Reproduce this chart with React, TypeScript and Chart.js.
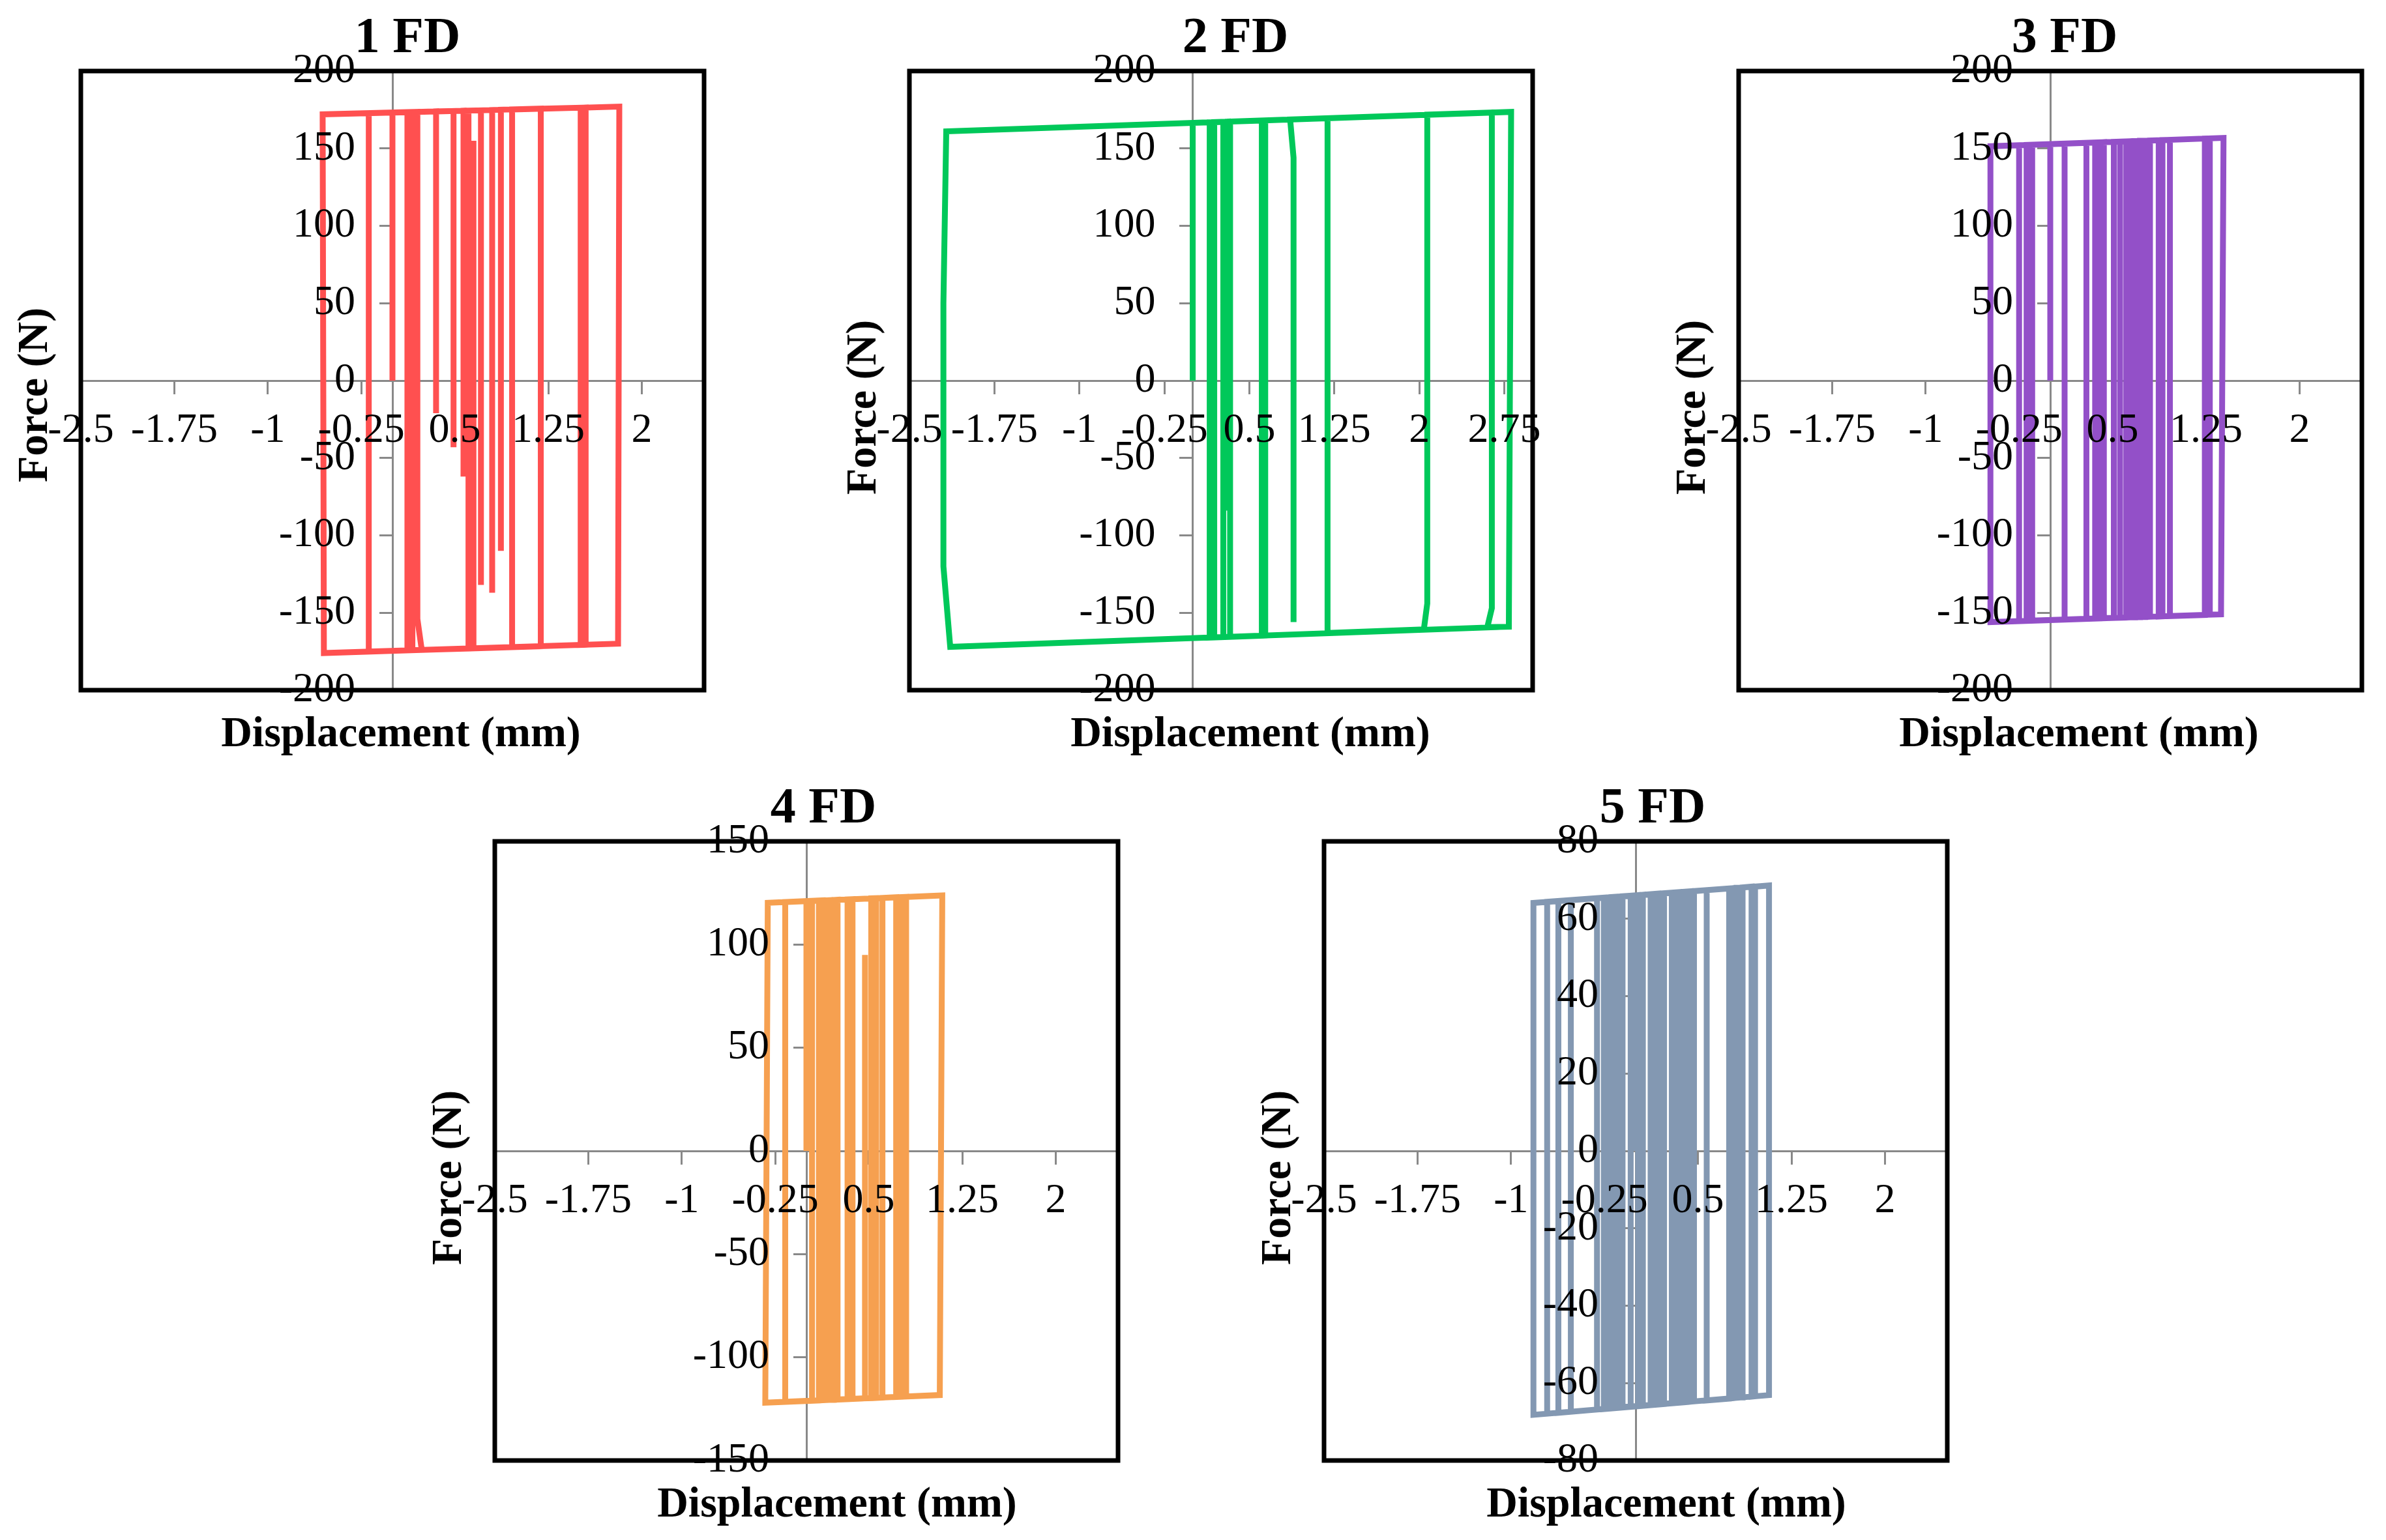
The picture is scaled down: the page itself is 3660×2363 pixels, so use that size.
import React, { useEffect, useRef } from 'react';
import { Chart, registerables } from 'chart.js';

Chart.register(...registerables);

// ---------- data ----------
const titles = ['1 FD', '2 FD', '3 FD', '4 FD', '5 FD'];
const xAxisTitle = 'Displacement (mm)';
const yAxisTitle = 'Force (N)';

const xTicksA = [-2.5, -1.75, -1, -0.25, 0.5, 1.25, 2];
const xTicksB = [-2.5, -1.75, -1, -0.25, 0.5, 1.25, 2, 2.75];
const yTicks200 = [-200, -150, -100, -50, 0, 50, 100, 150, 200];
const yTicks150 = [-150, -100, -50, 0, 50, 100, 150];
const yTicks80 = [-80, -60, -40, -20, 0, 20, 40, 60, 80];

const disp1 = [0, 0, 0.12, 0.12, -0.19, -0.19, 0.16, 0.16, -0.55, -0.56, 0.2, 0.2, 0.235, 0.61, 0.61, 0.2, 0.35, 0.35, 0.35, 0.49, 0.49, 0.49, 0.57, 0.57, 0.57, 0.71, 0.71, 0.71, 0.8, 0.8, 0.8, 0.87, 0.87, 0.87, 1.19, 1.19, 0.65, 0.65, 0.65, 0.96, 0.96, 1.55, 1.55, 1.51, 1.51, 1.82, 1.81, -0.55];
const force1 = [0, 173.2, 173.4, -174.3, -175.1, 172.8, 173.5, -174.2, -176, 172, 173.6, -154, -174, -173.1, 174.4, 173.6, 173.9, -21, 173.9, 174.2, -43, 174.2, 174.4, -62, 174.4, 174.6, -132, 174.6, 174.8, -137, 174.8, 175, -110, 175, 175.7, -171.6, -173, 155, -173, -172.2, 175.2, 176.4, -170.7, -170.8, 176.3, 177, -170, -176];

const disp2 = [0, 0, 0.29, 0.29, 0.29, 0.31, 0.31, 0.31, 0.33, 0.33, 0.15, 0.15, 0.61, 0.61, 0.19, 0.19, 0.27, 0.27, 0.64, 0.64, 0.86, 0.89, 0.89, 0.89, 0.86, 1.19, 1.19, 2.04, 2.07, 2.07, 2.64, 2.64, 2.6, 2.79, 2.81, -2.175, -2.2, -2.2, -2.14, 2.79];
const force2 = [0, 166.5, 167.2, -84, 167.2, 167.3, -70, 167.3, 167.3, -165.5, -166, 166.9, 168, -164.8, -165.9, 167, 167.2, -165.7, -164.7, 168.1, 168.7, 144, -156, 144, 168.7, 169.5, -163, -160.7, -144, 171.8, 173.2, -147, -159.3, -159, 173.6, 161, 50, -120, -172, -159];

const disp3 = [0, 0, 0.115, 0.115, -0.145, -0.145, 0.29, 0.29, -0.19, -0.19, 0.36, 0.36, -0.25, -0.25, 0.4, 0.4, -0.48, -0.48, 0.43, 0.43, 0.51, 0.51, 0.61, 0.61, 0.56, 0.56, 0.65, 0.65, 0.68, 0.68, 0.7, 0.7, 0.72, 0.72, 0.74, 0.74, 0.76, 0.76, 0.78, 0.78, 0.8, 0.8, 0.87, 0.87, 0.9, 0.9, 0.96, 0.96, 1.24, 1.24, 1.28, 1.28, 1.37, 1.39, -0.48, -0.48, 1.37];
const force3 = [0, 152.8, 153.1, -154.4, -155.1, 152.4, 153.6, -153.9, -155.2, 152.3, 153.8, -153.7, -155.4, 152.1, 153.9, -153.6, -156, 151.4, 154, -153.5, -153.3, 154.3, 154.5, -153.1, -153.2, 154.4, 154.7, -152.9, -152.9, 154.7, 154.8, -152.8, -152.8, 154.9, 154.9, -152.7, -152.7, 155, 155, -152.6, -152.5, 155.1, 155.3, -152.4, -152.3, 155.4, 155.5, -152.1, -151.4, 156.4, 156.5, -151.2, -151, 156.8, 151.4, -156, -151];

const disp4 = [0, 0, 0.045, 0.045, -0.17, -0.17, 0.1, 0.1, -0.33, -0.31, 0.13, 0.13, 0.16, 0.16, 0.19, 0.19, 0.22, 0.22, 0.25, 0.25, 0.33, 0.33, 0.37, 0.37, 0.47, 0.47, 0.47, 0.52, 0.52, 0.56, 0.56, 0.61, 0.61, 0.72, 0.72, 0.76, 0.76, 0.8, 0.8, 1.07, 1.09, -0.31, -0.33, 1.07];
const force4 = [0, 121, 121.1, -121, -121.6, 120.6, 121.3, -120.9, -122, 120.2, 121.4, -120.8, -120.7, 121.4, 121.5, -120.6, -120.6, 121.6, 121.7, -120.5, -120.3, 121.9, 122, -120.2, -119.9, 95, -119.9, -119.8, 122.4, 122.5, -119.7, -119.5, 122.6, 122.9, -119.2, -119.1, 123, 123.1, -119, -118.3, 123.8, 120.2, -122, -118.3];

const disp5 = [-0.01, -0.01, 0.02, 0.02, -0.04, -0.04, 0.058, 0.058, -0.105, -0.105, 0.12, 0.12, -0.135, -0.135, 0.15, 0.15, -0.165, -0.165, 0.18, 0.18, -0.195, -0.195, 0.21, 0.21, -0.225, -0.225, 0.228, 0.228, -0.255, -0.255, 0.29, 0.29, -0.31, -0.31, 0.32, 0.32, -0.52, -0.52, 0.35, 0.35, -0.62, -0.62, 0.38, 0.38, -0.71, -0.71, 0.41, 0.41, -0.82, -0.82, 0.44, 0.44, 0.468, 0.468, 0.57, 0.57, 0.75, 0.75, 0.78, 0.78, 0.81, 0.81, 0.835, 0.835, 0.858, 0.858, 0.93, 0.93, 0.958, 0.958, 1.07, 1.07, -0.82, -0.82, 1.07];
const force5 = [0, 66.0, 66.1, -65.9, -66.0, 65.9, 66.2, -65.8, -66.2, 65.8, 66.3, -65.7, -66.3, 65.7, 66.4, -65.6, -66.4, 65.6, 66.5, -65.5, -66.5, 65.6, 66.5, -65.4, -66.6, 65.5, 66.6, -65.4, -66.7, 65.4, 66.7, -65.2, -66.8, 65.3, 66.8, -65.1, -67.4, 64.8, 66.9, -65.0, -67.7, 64.6, 66.9, -65.0, -67.9, 64.4, 67.0, -64.9, -68.2, 64.1, 67.1, -64.8, -64.7, 67.1, 67.4, -64.5, -64.0, 67.8, 67.9, -63.9, -63.8, 68.0, 68.0, -63.7, -63.7, 68.1, 68.3, -63.5, -63.4, 68.3, 68.6, -63.1, -68.2, 64.1, 68.6];

// ---------- styling / layout ----------
const FONT = '"Liberation Serif", "Times New Roman", serif';
const GRAY = '#898989';
const AREA_W = 956;
const AREA_H = 950;
const PAD = 100;
const Y_LABEL_GAP = 57;
const X_LABEL_DROP = 77;

type PanelDef = {
  title: string;
  xs: number[];
  ys: number[];
  color: string;
  xMin: number;
  xMax: number;
  xTicks: number[];
  yMin: number;
  yMax: number;
  yTicks: number[];
  left: number;
  top: number;
  titleDx: number;
  xTitleDx: number;
  yTitleDy: number;
};

const panels: PanelDef[] = [
  { title: titles[0], xs: disp1, ys: force1, color: '#FF5050', xMin: -2.5, xMax: 2.5, xTicks: xTicksA, yMin: -200, yMax: 200, yTicks: yTicks200, left: 124, top: 109, titleDx: 23, xTitleDx: 13, yTitleDy: 22 },
  { title: titles[1], xs: disp2, ys: force2, color: '#00C85A', xMin: -2.5, xMax: 3, xTicks: xTicksB, yMin: -200, yMax: 200, yTicks: yTicks200, left: 1395, top: 109, titleDx: 22, xTitleDx: 45, yTitleDy: 41 },
  { title: titles[2], xs: disp3, ys: force3, color: '#9350C8', xMin: -2.5, xMax: 2.5, xTicks: xTicksA, yMin: -200, yMax: 200, yTicks: yTicks200, left: 2667, top: 109, titleDx: 22, xTitleDx: 44, yTitleDy: 41 },
  { title: titles[3], xs: disp4, ys: force4, color: '#F6A050', xMin: -2.5, xMax: 2.5, xTicks: xTicksA, yMin: -150, yMax: 150, yTicks: yTicks150, left: 759, top: 1291, titleDx: 26, xTitleDx: 47, yTitleDy: 41 },
  { title: titles[4], xs: disp5, ys: force5, color: '#8398B2', xMin: -2.5, xMax: 2.5, xTicks: xTicksA, yMin: -80, yMax: 80, yTicks: yTicks80, left: 2031, top: 1291, titleDx: 26, xTitleDx: 47, yTitleDy: 41 },
];

const framePlugin = {
  id: 'frameAndLabels',
  beforeDraw(chart: any) {
    const xs = chart.scales.x;
    const ys = chart.scales.y;
    if (!xs || !ys) return;
    const x0 = xs.getPixelForValue(0);
    const y0 = ys.getPixelForValue(0);
    try {
      const yi = ys.getLabelItems();
      yi.forEach((it: any) => {
        const o = it.options || it;
        if (o.translation) o.translation[0] = x0 - Y_LABEL_GAP;
        o.textAlign = 'right';
      });
      const xi = xs.getLabelItems();
      xi.forEach((it: any) => {
        const o = it.options || it;
        if (o.translation) o.translation[1] = y0 + X_LABEL_DROP - (it.textOffset || 0);
        o.textBaseline = 'middle';
      });
    } catch (e) {
      // ignore
    }
  },
  afterDraw(chart: any) {
    const { left, top, right, bottom } = chart.chartArea;
    const ctx = chart.ctx;
    ctx.save();
    ctx.strokeStyle = '#000000';
    ctx.lineWidth = 7;
    ctx.strokeRect(left, top, right - left, bottom - top);
    ctx.restore();
  },
};

function FDPanel({ p }: { p: PanelDef }) {
  const ref = useRef<HTMLCanvasElement | null>(null);
  useEffect(() => {
    if (!ref.current) return;
    const pts = p.xs.map((x, i) => ({ x, y: p.ys[i] }));
    const tickFont = { family: FONT, size: 64 };
    const chart = new Chart(ref.current, {
      type: 'scatter',
      data: {
        datasets: [
          {
            data: pts,
            showLine: true,
            borderColor: p.color,
            backgroundColor: p.color,
            borderWidth: 9,
            pointRadius: 0,
            pointHoverRadius: 0,
            fill: false,
            tension: 0,
            borderJoinStyle: 'miter',
          } as any,
        ],
      },
      options: {
        responsive: false,
        maintainAspectRatio: false,
        animation: false,
        events: [],
        layout: { padding: PAD },
        plugins: {
          legend: { display: false },
          tooltip: { enabled: false },
          title: { display: false },
        },
        scales: {
          x: {
            type: 'linear',
            position: { y: 0 } as any,
            min: p.xMin,
            max: p.xMax,
            afterBuildTicks: (s: any) => {
              s.ticks = p.xTicks.map((v) => ({ value: v }));
            },
            ticks: {
              z: 1,
              autoSkip: false,
              maxRotation: 0,
              minRotation: 0,
              padding: 22,
              color: '#000000',
              font: tickFont,
              callback: (v: any) => String(v),
            },
            grid: {
              display: true,
              drawOnChartArea: false,
              drawTicks: true,
              tickLength: 19,
              tickWidth: 3,
              tickColor: GRAY,
            },
            border: { display: true, color: GRAY, width: 3, z: 0 },
          } as any,
          y: {
            type: 'linear',
            position: { x: 0 } as any,
            min: p.yMin,
            max: p.yMax,
            afterBuildTicks: (s: any) => {
              s.ticks = p.yTicks.map((v) => ({ value: v }));
            },
            ticks: {
              z: 1,
              autoSkip: false,
              padding: 38,
              color: '#000000',
              font: tickFont,
              callback: (v: any) => String(v),
            },
            grid: {
              display: true,
              drawOnChartArea: false,
              drawTicks: true,
              tickLength: 19,
              tickWidth: 3,
              tickColor: GRAY,
            },
            border: { display: true, color: GRAY, width: 3, z: 0 },
          } as any,
        },
      },
      plugins: [framePlugin as any],
    });
    return () => chart.destroy();
  }, [p]);

  const cw = AREA_W + 2 * PAD;
  const ch = AREA_H + 2 * PAD;
  const cx = p.left + AREA_W / 2;
  const titleStyle: React.CSSProperties = {
    position: 'absolute',
    whiteSpace: 'nowrap',
    lineHeight: 1,
    fontFamily: FONT,
    fontWeight: 'bold',
    color: '#000',
    transform: 'translate(-50%, -50%)',
  };
  return (
    <>
      <canvas
        ref={ref}
        width={cw}
        height={ch}
        style={{ position: 'absolute', left: p.left - PAD, top: p.top - PAD, width: cw, height: ch }}
      />
      <div style={{ ...titleStyle, fontSize: 78, left: cx + p.titleDx, top: p.top - 55 }}>{p.title}</div>
      <div style={{ ...titleStyle, fontSize: 66, left: cx + p.xTitleDx, top: p.top + AREA_H + 64 }}>{xAxisTitle}</div>
      <div
        style={{
          ...titleStyle,
          fontSize: 66,
          left: p.left - 74,
          top: p.top + AREA_H / 2 + p.yTitleDy,
          transform: 'translate(-50%, -50%) rotate(-90deg)',
        }}
      >
        {yAxisTitle}
      </div>
    </>
  );
}

export default function App() {
  return (
    <div
      style={{
        position: 'absolute',
        left: 0,
        top: 0,
        width: 3660,
        height: 2363,
        background: '#ffffff',
        overflow: 'hidden',
      }}
    >
      {panels.map((p) => (
        <FDPanel key={p.title} p={p} />
      ))}
    </div>
  );
}
